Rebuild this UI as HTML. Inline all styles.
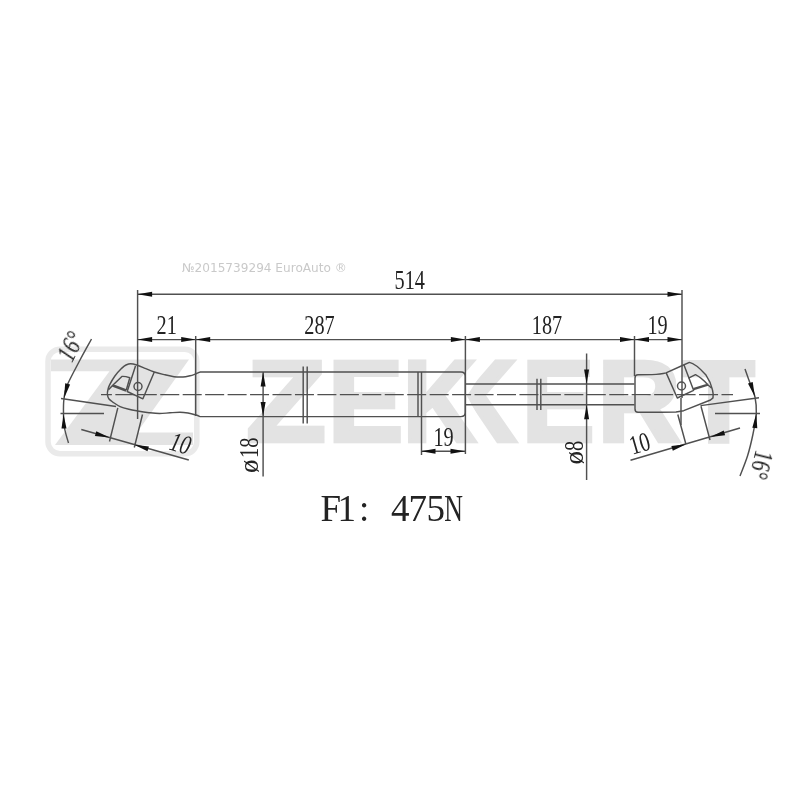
<!DOCTYPE html>
<html><head><meta charset="utf-8"><title>ZEKKERT gas spring 514</title>
<style>
html,body{margin:0;padding:0;background:#fff;}
body{width:800px;height:800px;overflow:hidden;}
svg{display:block;}
.wm{font-family:"Liberation Sans",sans-serif;font-weight:bold;font-size:115.2px;fill:#e3e3e3;stroke:#e3e3e3;stroke-width:4.5;stroke-linejoin:miter;}
.d{font-family:"Liberation Serif",serif;fill:#222;font-size:27px;}
#labels,#wmg{opacity:0.995;}
.l{stroke:#505050;stroke-width:1.45;fill:none;stroke-linecap:butt;stroke-linejoin:round;}
.t{stroke:#444;stroke-width:0.9;fill:none;}
.a{fill:#111;stroke:none;}
</style></head>
<body>
<svg width="800" height="800" viewBox="0 0 800 800">
<rect width="800" height="800" fill="#fff"/>
<defs><clipPath id="k2"><path d="M467,396 L496,350 L530,350 L530,450 L496,450 Z"/></clipPath></defs>

<g id="logo">
<rect x="48" y="349.2" width="148.8" height="104.6" rx="12" ry="12" fill="none" stroke="#eaeaea" stroke-width="5.5"/>
<path d="M51,359.4 L189,359.4 L137,432.5 L193,432.5 L193,445 L55,445 L109.5,371.3 L51,371.3 Z" fill="#e3e3e3"/>
</g>
<g class="wm" id="wmg">
<text y="441.25"><tspan x="246.6" textLength="79.15" lengthAdjust="spacingAndGlyphs">Z</tspan><tspan x="328.15" textLength="74.76" lengthAdjust="spacingAndGlyphs">E</tspan><tspan x="403.25" textLength="72.2" lengthAdjust="spacingAndGlyphs">K</tspan></text><text y="441.25" clip-path="url(#k2)"><tspan x="443.75" textLength="72.2" lengthAdjust="spacingAndGlyphs">K</tspan></text><text y="441.25"><tspan x="522.2" textLength="72.07" lengthAdjust="spacingAndGlyphs">E</tspan><tspan x="597.75" textLength="82.5" lengthAdjust="spacingAndGlyphs">R</tspan><tspan x="683.1" textLength="71.35" lengthAdjust="spacingAndGlyphs">T</tspan></text>
</g>
<g id="drawing">
<path class="l" d="M137.6,294.2H682 M137.6,339.6H682"/>
<path class="l" d="M137.6,290V419 M195.7,336V416 M465.4,336V454 M634.5,336V376 M682,290V398 M681,398V425 M421.5,417V455 M421.5,451.3H465"/>
<path class="l" d="M101,394.6H733" stroke-dasharray="19 3.45" stroke-dashoffset="8.1"/>
<path class="l" d="M200,372H461Q465.3,372 465.3,376.3V412.3Q465.3,416.6 461,416.6H200 M418,372V416.6 M421.5,372V416.6"/>
<path class="l" d="M465,384H634.5 M465,404.7H634.5"/>
<path class="l" d="M303.2,366.5V423.5 M307.2,366.5V423.5 M537,378.8V410 M540.8,378.8V410"/>
<path class="l" d="M263.1,372V476.5 M586.6,353.5V480"/>
<path class="a" d="M137.6,294.2L152.1,296.7L152.1,291.7Z"/>
<path class="a" d="M682.0,294.2L667.5,291.7L667.5,296.7Z"/>
<path class="a" d="M137.6,339.6L152.1,342.1L152.1,337.1Z"/>
<path class="a" d="M195.7,339.6L181.2,337.1L181.2,342.1Z"/>
<path class="a" d="M195.7,339.6L210.2,342.1L210.2,337.1Z"/>
<path class="a" d="M465.4,339.6L450.9,337.1L450.9,342.1Z"/>
<path class="a" d="M465.4,339.6L479.9,342.1L479.9,337.1Z"/>
<path class="a" d="M634.5,339.6L620.0,337.1L620.0,342.1Z"/>
<path class="a" d="M634.5,339.6L649.0,342.1L649.0,337.1Z"/>
<path class="a" d="M682.0,339.6L667.5,337.1L667.5,342.1Z"/>
<path class="a" d="M421.0,451.3L435.5,453.8L435.5,448.8Z"/>
<path class="a" d="M465.0,451.3L450.5,448.8L450.5,453.8Z"/>
<path class="a" d="M263.1,372.0L260.6,386.5L265.6,386.5Z"/>
<path class="a" d="M263.1,416.6L265.6,402.1L260.6,402.1Z"/>
<path class="a" d="M586.6,384.0L589.1,369.5L584.1,369.5Z"/>
<path class="a" d="M586.6,404.7L584.1,419.2L589.1,419.2Z"/>
<path class="l" d="M200.0,372.0C199.3,372.3 197.7,373.2 196.0,373.8C194.3,374.4 192.2,375.3 190.0,375.8C187.8,376.3 185.7,376.9 183.0,377.0C180.3,377.1 177.0,377.1 174.0,376.7C171.0,376.3 168.3,375.6 165.0,374.8C161.7,374.0 157.6,373.1 154.3,372.0C151.0,370.9 147.9,369.5 145.0,368.3C142.1,367.1 139.1,365.8 136.7,365.0C134.3,364.2 132.4,363.7 130.6,363.7C128.8,363.7 127.5,364.3 126.0,365.0C124.5,365.7 123.8,366.3 121.9,368.1C120.1,369.9 117.0,373.2 114.9,376.0C112.9,378.8 110.8,382.5 109.6,384.8C108.4,387.1 108.3,388.4 107.9,390.0C107.5,391.6 107.2,392.9 107.4,394.4C107.6,395.9 107.8,397.5 108.8,398.8C109.8,400.1 111.2,401.0 113.1,402.3C115.0,403.6 117.5,405.4 120.1,406.6C122.7,407.8 126.0,408.6 128.9,409.3C131.8,410.0 134.2,410.4 137.6,411.0C140.9,411.6 145.3,412.3 149.0,412.7C152.7,413.1 156.0,413.5 159.5,413.5C163.0,413.5 166.6,413.0 170.0,412.8C173.4,412.6 177.0,412.3 180.0,412.3C183.0,412.3 185.3,412.6 188.0,413.0C190.7,413.4 194.0,414.4 196.0,415.0C198.0,415.6 199.3,416.3 200.0,416.6"/>
<path class="l" d="M135.5,366 L127.2,391.5 L142.9,398.8 L154.3,372"/>
<path class="l" d="M108.5,389.8 L113,385 L121.9,376.4 C124.5,376.2 127,376.8 129.8,377.7 L126.3,390 M113,385 L126.3,390 M112.6,386 L126,391"/>
<circle class="l" cx="138" cy="386.5" r="4"/>
<path class="l" d="M117.8,407.8 L109.5,441.5 M142.5,414.5 L134.3,447.5 M81.3,429.5 L188.8,460"/>
<path class="a" d="M109.5,437.6L96.3,431.2L94.9,436.0Z"/>
<path class="a" d="M134.3,444.8L147.5,451.2L148.9,446.4Z"/>
<path class="l" d="M61,398.5 L116,406.5 M60.5,413.5 H104"/>
<path class="l" d="M91.5,339.0C89.6,342.5 84.0,352.3 80.0,360.0C76.0,367.7 70.0,378.6 67.3,385.0C64.6,391.4 64.6,393.7 64.0,398.5C63.4,403.3 63.4,409.1 63.5,414.0C63.6,418.9 63.7,423.2 64.5,428.0C65.3,432.8 67.8,440.5 68.5,443.0"/>
<path class="a" d="M64.0,398.5L70.1,384.6L65.2,383.3Z"/>
<path class="a" d="M63.5,414.0L61.5,428.6L66.5,428.4Z"/>
<path class="l" d="M635,378 Q635,374.8 638,374.8 L652,374.6 C658,374.4 662,374 666,372.9 L682.4,365.5 L689.4,362.4 C694,363.2 699,367.3 706,375.1 C709,379.5 711.5,385 712.5,390 C713.3,393 713.3,396 713,397.9 L710.5,400 L683.7,410.7 L676,412 L660.5,412.3 L638,412.3 Q635,412.3 635,409 Z"/>
<path class="l" d="M666.2,372.9 L677.3,398 L693.6,390.3 L683.9,364.8"/>
<path class="l" d="M688.5,378.2 L695.5,374.7 C700,377 704.5,381 708,385 L693.6,389.6 M708,384.2 L693.3,388.6 M708,385 L711.5,388"/>
<circle class="l" cx="681.5" cy="386" r="4"/>
<path class="l" d="M677.8,414.5 L686,444.5 M701,406.3 L710,440 M630.5,460.3 L740,428"/>
<path class="a" d="M686.0,444.2L671.4,445.9L672.8,450.7Z"/>
<path class="a" d="M710.5,437.0L725.1,435.3L723.7,430.5Z"/>
<path class="l" d="M700.5,405.6 L759,397.7 M715,413.5 H760"/>
<path class="l" d="M745.0,369.0C745.8,371.3 748.3,378.3 750.0,383.0C751.7,387.7 754.0,392.0 755.0,397.0C756.0,402.0 756.6,406.8 756.3,413.0C756.0,419.2 754.5,426.8 753.0,434.0C751.5,441.2 749.7,449.0 747.5,456.0C745.3,463.0 741.2,472.7 740.0,476.0"/>
<path class="a" d="M755.0,397.0L752.7,382.0L748.0,383.5Z"/>
<path class="a" d="M756.3,413.5L752.3,427.7L757.3,428.2Z"/>
</g>
<g id="labels">
<text x="182" y="272" font-family="'DejaVu Sans','Liberation Sans',sans-serif" font-size="12.1" fill="#c9c9c9" id="cap">№2015739294 EuroAuto ®</text>
<text class="d" text-anchor="middle" transform="translate(409.7,288.9) scale(0.75,1)">514</text>
<text class="d" text-anchor="middle" transform="translate(166.7,334.3) scale(0.75,1)">21</text>
<text class="d" text-anchor="middle" transform="translate(319.5,334.3) scale(0.75,1)">287</text>
<text class="d" text-anchor="middle" transform="translate(547,334.3) scale(0.75,1)">187</text>
<text class="d" text-anchor="middle" transform="translate(657.5,334.3) scale(0.75,1)">19</text>
<text class="d" text-anchor="middle" transform="translate(443.5,445.9) scale(0.75,1)">19</text>
<text class="d" transform="translate(257.8,473) rotate(-90) scale(0.76,1)"><tspan textLength="17.76" lengthAdjust="spacingAndGlyphs">ø</tspan><tspan dx="2">18</tspan></text>
<text class="d" transform="translate(582.7,464.5) rotate(-90) scale(0.76,1)"><tspan textLength="17.76" lengthAdjust="spacingAndGlyphs">ø</tspan><tspan>8</tspan></text>
<text class="d" font-style="italic" text-anchor="middle" transform="translate(178,452) rotate(16) scale(0.76,1)">10</text>
<text class="d" text-anchor="middle" transform="translate(642,452) rotate(-16) scale(0.76,1)">10</text>
<text class="d" font-style="italic" text-anchor="middle" transform="translate(78.5,350.5) rotate(-63) scale(0.76,1)">16°</text>
<text class="d" text-anchor="middle" transform="translate(752.5,463) rotate(104) scale(0.76,1)">16°</text>
<text class="d" style="font-size:37px" y="521"><tspan x="320.5 337.5 359 378 391 408.5 426.5">F1: 475</tspan><tspan x="444.2" textLength="18.7" lengthAdjust="spacingAndGlyphs">N</tspan></text>
</g>
</svg>
</body></html>
